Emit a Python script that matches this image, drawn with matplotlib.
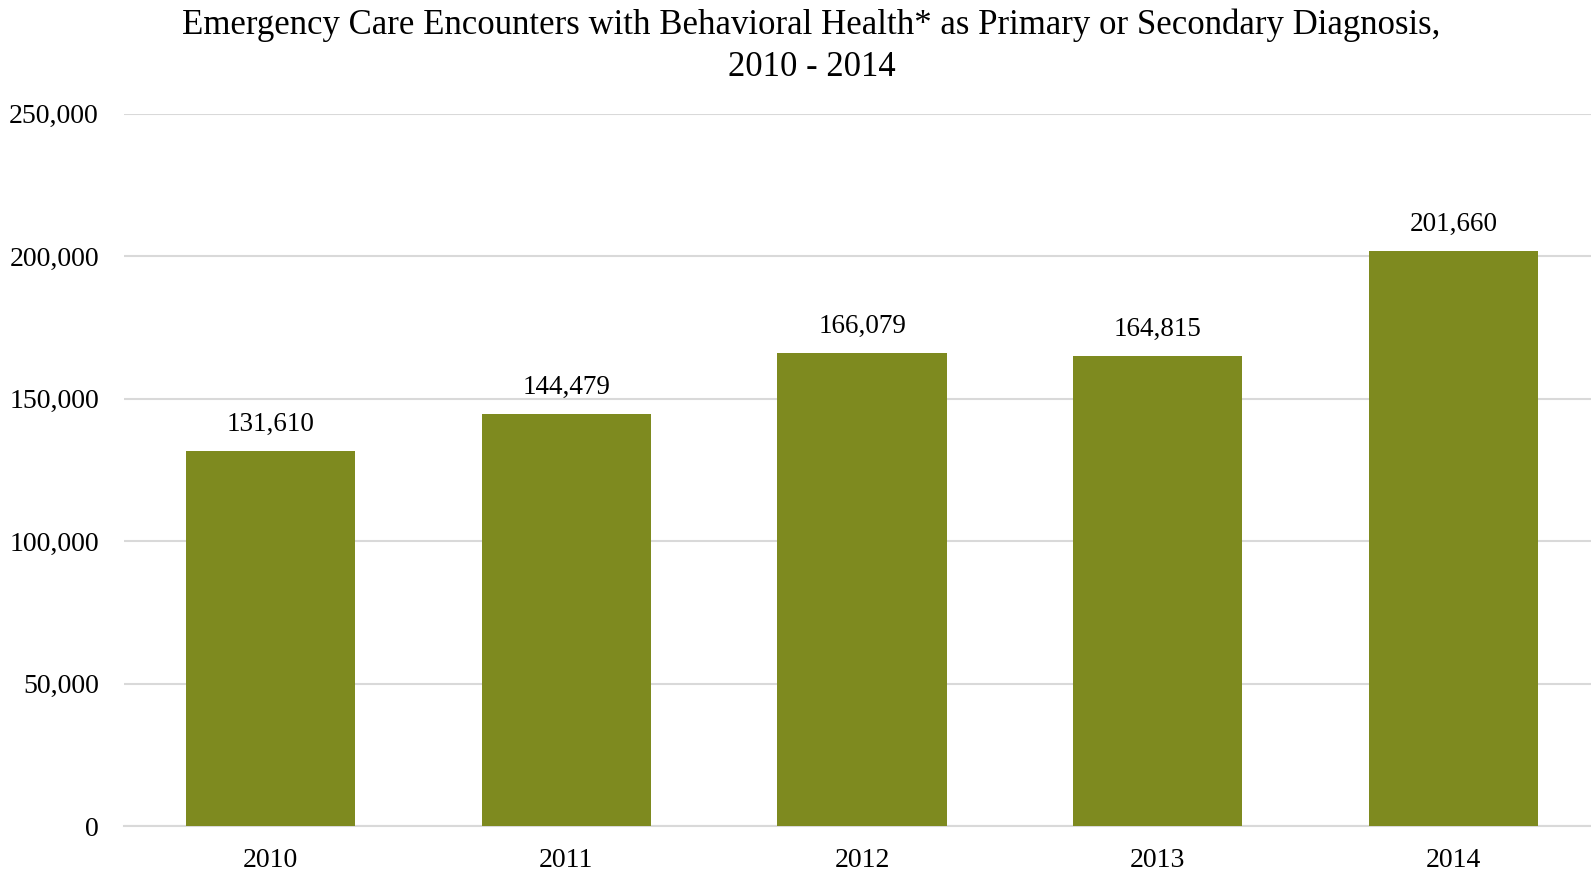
import matplotlib
matplotlib.use("Agg")
import matplotlib.pyplot as plt
from matplotlib.ticker import FuncFormatter

years = ["2010", "2011", "2012", "2013", "2014"]
encounters = [131610, 144479, 166079, 164815, 201660]
yticks = [0, 50000, 100000, 150000, 200000, 250000]

plt.rcParams['font.family'] = ['Liberation Serif', 'DejaVu Serif']

fig = plt.figure(figsize=(15.91, 8.74), dpi=100)
ax = fig.add_axes([0.0779, 0.0549, 0.9221, 0.8151])

x = range(len(years))
bars = ax.bar(x, encounters, width=0.573, color="#7E8A1F", zorder=3)
for b, v in zip(bars, encounters):
    ax.text(b.get_x() + b.get_width() / 2, v + 5000, f"{v:,}",
            ha="center", va="bottom", fontsize=19.5, color="black")

ax.set_xlim(-0.496, 4.465)
ax.set_ylim(0, 250000)
ax.set_yticks(yticks)
ax.yaxis.set_major_formatter(FuncFormatter(lambda v, p: f"{int(v):,}"))
ax.set_xticks(list(x))
ax.set_xticklabels(years)
ax.tick_params(length=0, labelsize=20)
ax.tick_params(axis="x", pad=16)
ax.tick_params(axis="y", pad=18)
ax.grid(axis="y", color="#D9D9D9", linewidth=1.5, zorder=0)
for s in ["top", "right", "left"]:
    ax.spines[s].set_visible(False)
ax.spines["bottom"].set_color("#D9D9D9")
ax.spines["bottom"].set_linewidth(1.5)

fig.text(0.51, 0.99, "Emergency Care Encounters with Behavioral Health* as Primary or Secondary Diagnosis,\n2010 - 2014",
         ha="center", va="top", fontsize=25, linespacing=1.34)

fig.savefig("out.png", dpi=100)
